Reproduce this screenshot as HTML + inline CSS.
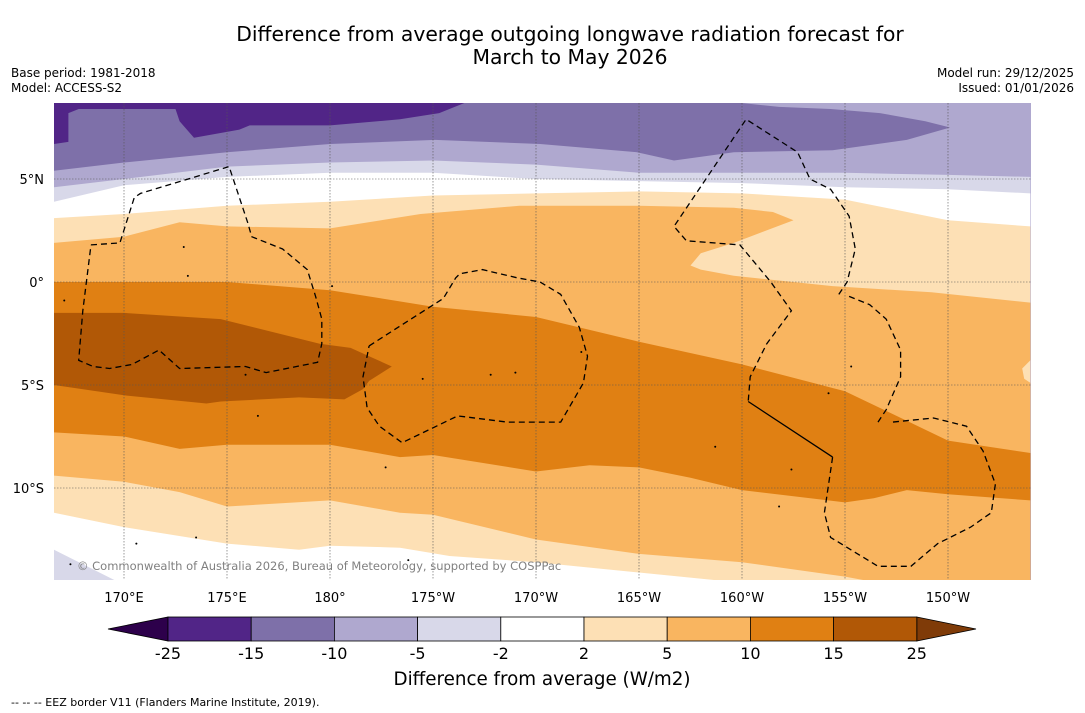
<!DOCTYPE html>
<html><head><meta charset="utf-8"><style>
html,body{margin:0;padding:0;background:#fff;width:1085px;height:713px;overflow:hidden}
svg{display:block;font-family:"DejaVu Sans","Liberation Sans",sans-serif}
</style></head><body>
<svg id="chart" width="1085" height="713" viewBox="0 0 1085 713">
<defs><clipPath id="pc"><rect x="54" y="103" width="977" height="477"/></clipPath></defs>
<text x="570" y="41" text-anchor="middle" font-size="20.3" fill="#000">Difference from average outgoing longwave radiation forecast for</text>
<text x="570" y="64" text-anchor="middle" font-size="20.3" fill="#000">March to May 2026</text>
<text x="11" y="77" font-size="12">Base period: 1981-2018</text>
<text x="11" y="92" font-size="12">Model: ACCESS-S2</text>
<text x="1074" y="77" font-size="12" text-anchor="end">Model run: 29/12/2025</text>
<text x="1074" y="92" font-size="12" text-anchor="end">Issued: 01/01/2026</text>
<g id="map" clip-path="url(#pc)"></g>
<g id="grid"></g>
<g id="eez" clip-path="url(#pc)"></g>
<g id="axes"></g>
<text x="77" y="570" font-size="11.5" fill="#808080">© Commonwealth of Australia 2026, Bureau of Meteorology, supported by COSPPac</text>
<g id="cbar"></g>
<text x="542" y="685" text-anchor="middle" font-size="18.3">Difference from average (W/m2)</text>
<text x="11" y="706" font-size="11">--  --  -- EEZ border V11 (Flanders Marine Institute, 2019).</text>
</svg>
<script>
// ---- data ----
const lonTicks=[170,175,180,185,190,195,200,205,210];
const lonTickLabels=["170°E","175°E","180°","175°W","170°W","165°W","160°W","155°W","150°W"];
const latTicks=[5,0,-5,-10];
const latTickLabels=["5°N","0°","5°S","10°S"];
const cbLevels=["-25","-15","-10","-5","-2","2","5","10","15","25"];
const cbColors=["#512587","#7e70a9","#afa8cf","#d8d8e9","#ffffff","#fde0b5","#f9b560","#e08013","#b15806"];
const bandLons=[166.6,170,175,180,185,190,195,200,205,210,214];
const lavTop=[4.6,5.0,5.6,5.8,5.9,5.7,5.3,5.3,5.3,5.2,5.1];
const whiteTop=[3.9,4.7,5.1,5.3,5.3,5.0,4.9,4.8,4.6,4.5,4.3];
const paleTop=[3.1,3.3,3.7,3.9,4.2,4.3,4.4,4.3,4.0,3.0,2.7];
const midTop=[0,0,0,-0.4,-1.2,-1.7,-2.9,-4.0,-5.3,-7.7,-8.3];
const orange5Top=[[166.6,1.9],[170,2.2],[172.7,2.9],[175,2.7],[180,2.6],[184.4,3.3],[189.2,3.7],[195,3.7],[199.6,3.6],[201.5,3.4],[202.5,3.0],[199.6,1.9],[198,1.4],[197.5,0.8],[198,0.6],[199.6,0.3],[204.4,-0.2],[209.2,-0.5],[214,-1.0]];
const lowLons=[166.6,170,172.7,175,180,183.4,185,190,192.6,195,197.5,200,205,206.4,208,210,214];
const lowOrangeTop=[-7.3,-7.5,-8.1,-7.9,-7.9,-8.5,-8.4,-9.2,-8.9,-9.0,-9.5,-10.1,-10.7,-10.5,-10.1,-10.3,-10.6];
const lowPaleLons=[166.6,170,172.7,175,180,183.4,185,190,195,200,205,206.6,214];
const lowPaleTop=[-9.4,-9.7,-10.2,-10.9,-10.6,-11.2,-11.3,-12.5,-13.2,-13.6,-14.3,-14.6,-14.6];
const lowWhiteLons=[166.6,170,175,178.5,180,183.4,185.8,190,195,200,214];
const lowWhiteTop=[-11.2,-11.9,-12.7,-13.0,-12.8,-12.9,-13.3,-13.6,-14.1,-14.6,-15];
const darkPurple=[[166.6,8.8],[166.6,6.7],[167.3,6.8],[167.3,8.2],[167.8,8.4],[172.5,8.4],[172.7,7.8],[173.4,7.0],[175.6,7.4],[176.1,7.6],[180,7.6],[183.4,7.9],[185.3,8.2],[186.8,8.8]];
const midPurple=[[166.6,8.8],[198.9,8.8],[201.8,8.5],[204.3,8.4],[206.7,8.2],[208.9,7.8],[210.1,7.5],[208.0,6.9],[204.4,6.4],[199.6,6.3],[196.7,5.9],[194.9,6.3],[190.2,6.7],[185.1,6.9],[180,6.7],[175,6.3],[170,5.8],[166.6,5.4]];
const darkBrown=[[166.6,-1.5],[170,-1.5],[174.7,-1.8],[179.5,-3.0],[181,-3.2],[181.9,-3.6],[183,-4.1],[181.9,-4.8],[181.6,-5.2],[180.7,-5.7],[178.5,-5.6],[174.7,-5.8],[174,-5.9],[170,-5.5],[166.6,-5.0]];
const lavCorner=[[166.6,-13.0],[169.8,-14.6],[166.6,-14.6]];
const paleBlob=[[214,-3.8],[213.6,-4.2],[213.7,-4.7],[214,-4.9]];
const islands=[[167.1,-0.9],[172.9,1.7],[173.1,0.3],[175.9,-4.5],[180.1,-0.2],[176.5,-6.5],[184.5,-4.7],[187.8,-4.5],[189.0,-4.4],[192.2,-3.4],[198.7,-8.0],[201.8,-10.9],[202.4,-9.1],[204.2,-5.4],[205.3,-4.1],[182.7,-9.0],[183.8,-13.5],[170.6,-12.7],[167.4,-13.7],[173.5,-12.4]];
const eezWest=[[168.4,1.8],[169.8,1.9],[170.5,4.1],[170.8,4.3],[175.1,5.6],[176.0,2.9],[176.2,2.2],[177.7,1.6],[178.9,0.6],[179.3,-0.7],[179.6,-1.8],[179.6,-3.0],[179.4,-3.9],[176.9,-4.4],[175.9,-4.1],[172.7,-4.2],[171.7,-3.3],[170.4,-4.0],[169.3,-4.2],[168.5,-4.1],[167.8,-3.8],[168.0,-1.4],[168.4,1.8]];
const eezMid=[[181.9,-3.1],[184.4,-1.5],[185.5,-0.8],[186.1,0.2],[186.3,0.4],[187.4,0.6],[189.1,0.2],[190.2,0],[191.2,-0.6],[192.1,-2.2],[192.5,-3.6],[192.3,-4.9],[191.2,-6.8],[188.6,-6.8],[186.2,-6.5],[183.5,-7.8],[182.4,-7.0],[181.8,-6.1],[181.6,-4.6],[181.9,-3.1]];
const eezNorth=[[204.7,-0.6],[205.1,0],[205.5,1.6],[205.2,3.2],[204.3,4.5],[203.3,5.0],[202.7,6.3],[200.2,7.9],[196.7,2.7],[197.3,2.0],[199.9,1.8],[201.4,0],[202.4,-1.4],[201.2,-3.0],[200.4,-4.6],[200.3,-5.8]];
const eezSolid=[[200.3,-5.8],[204.4,-8.5]];
const eezSouth=[[204.4,-8.5],[204.0,-11.2],[204.3,-12.4],[206.6,-13.8],[208.2,-13.8],[209.5,-12.7],[211.1,-11.9],[212.1,-11.2],[212.3,-9.8],[211.7,-8.2],[210.9,-7.0],[209.3,-6.6],[207.3,-6.8]];
const eezEast=[[205.2,-0.7],[206.2,-1.1],[207.0,-1.8],[207.7,-3.3],[207.7,-4.6],[207.0,-6.2],[206.6,-6.8]];
// ---- axis functions ----
const X=lon=>124+(lon-170)*20.6;
const Y=lat=>282-lat*20.6;
const NS="http://www.w3.org/2000/svg";
function mk(tag,attrs,parent){const e=document.createElementNS(NS,tag);for(const k in attrs)e.setAttribute(k,attrs[k]);parent.appendChild(e);return e;}
const map=document.getElementById('map');
const pts=a=>a.map(p=>X(p[0]).toFixed(1)+','+Y(p[1]).toFixed(1)).join(' ');
function bandDown(lons,lats,color,name){
  const a=lons.map((l,i)=>[l,lats[i]]);
  const s=pts(a)+' '+X(lons[lons.length-1]).toFixed(1)+','+(Y(-16))+' '+X(lons[0]).toFixed(1)+','+Y(-16);
  const p=mk('polygon',{points:s,fill:color},map);
  
  
}
function poly(a,color,name){
  const p=mk('polygon',{points:pts(a),fill:color},map);
  
  
}
const bg=mk('rect',{x:54,y:103,width:977,height:477,fill:cbColors[2]},map);


poly(midPurple,cbColors[1],'band-minus15-minus10');
poly(darkPurple,cbColors[0],'band-minus25-minus15');
bandDown(bandLons,lavTop,cbColors[3],'band-minus5-minus2');
bandDown(bandLons,whiteTop,cbColors[4],'band-minus2-2');
bandDown(bandLons,paleTop,cbColors[5],'band-2-5');
bandDown(orange5Top.map(p=>p[0]),orange5Top.map(p=>p[1]),cbColors[6],'band-5-10');
poly(paleBlob,cbColors[5],'band-2-5-east-blob');
bandDown(bandLons,midTop,cbColors[7],'band-10-15');
poly(darkBrown,cbColors[8],'band-15-25');
bandDown(lowLons,lowOrangeTop,cbColors[6],'band-5-10-south');
bandDown(lowPaleLons,lowPaleTop,cbColors[5],'band-2-5-south');
bandDown(lowWhiteLons,lowWhiteTop,cbColors[4],'band-minus2-2-south');
poly(lavCorner,cbColors[3],'band-minus5-minus2-south');
islands.forEach(p=>{const c=mk('circle',{cx:X(p[0]),cy:Y(p[1]),r:1,fill:'#000'},map);

});
// grid
const grid=document.getElementById('grid');
lonTicks.forEach(l=>{const g=mk('line',{x1:X(l),x2:X(l),y1:103,y2:580,stroke:'#555','stroke-width':0.6,'stroke-dasharray':'1.5,1.5'},grid);

});
latTicks.forEach(l=>{const g=mk('line',{x1:54,x2:1031,y1:Y(l),y2:Y(l),stroke:'#555','stroke-width':0.6,'stroke-dasharray':'1.5,1.5'},grid);

});
// eez
const eez=document.getElementById('eez');
[[eezWest,'eez-west'],[eezMid,'eez-central'],[eezNorth,'eez-north'],[eezSouth,'eez-south'],[eezEast,'eez-east']].forEach(([a,n])=>{
 const l=mk('polyline',{points:pts(a),fill:'none',stroke:'#000','stroke-width':1.3,'stroke-dasharray':'6,4'},eez);
 
 });
const sl=mk('polyline',{points:pts(eezSolid),fill:'none',stroke:'#000','stroke-width':1.3},eez);


// axes labels
const axes=document.getElementById('axes');
lonTicks.forEach((l,i)=>{const t=mk('text',{x:X(l),y:602,'text-anchor':'middle','font-size':13},axes);t.textContent=lonTickLabels[i];

});
latTicks.forEach((l,i)=>{const t=mk('text',{x:44,y:Y(l)+5,'text-anchor':'end','font-size':13},axes);t.textContent=latTickLabels[i];

});
// colorbar
const cb=document.getElementById('cbar');
const cx0=168,cw=83.2,cy=617,ch=24;
const lt=mk('polygon',{points:`108,${cy+ch/2} ${cx0},${cy} ${cx0},${cy+ch}`,fill:'#2d004b',stroke:'#000','stroke-width':0.8},cb);


const rx=cx0+cw*cbColors.length;
const rt=mk('polygon',{points:`${rx},${cy} 976,${cy+ch/2} ${rx},${cy+ch}`,fill:'#7f3b08',stroke:'#000','stroke-width':0.8},cb);


cbColors.forEach((c,i)=>{const r=mk('rect',{x:cx0+i*cw,y:cy,width:cw,height:ch,fill:c,stroke:'#000','stroke-width':0.8},cb);

});
cbLevels.forEach((v,i)=>{const t=mk('text',{x:cx0+i*cw,y:659,'text-anchor':'middle','font-size':16},cb);t.textContent=v;

});
</script>
</body></html>
